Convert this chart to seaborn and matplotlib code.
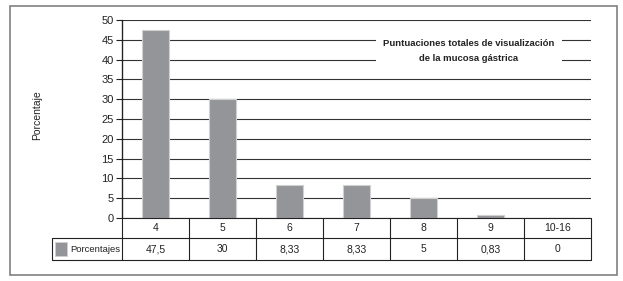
import matplotlib
matplotlib.use('Agg')
import matplotlib.pyplot as plt
import seaborn as sns
import pandas as pd
from matplotlib.patches import Rectangle
from matplotlib.lines import Line2D

categorias = ['4', '5', '6', '7', '8', '9', '10-16']
porcentajes = [47.5, 30, 8.33, 8.33, 5, 0.83, 0]
etiquetas = ['47,5', '30', '8,33', '8,33', '5', '0,83', '0']
serie = 'Porcentajes'

sns.set_style('white')
plt.rcParams['font.family'] = ['Liberation Sans Narrow', 'Liberation Sans', 'DejaVu Sans']

W, H = 623, 281
fig = plt.figure(figsize=(W / 100, H / 100), dpi=100)

def fx(px):
    return px / W

def fy(py):
    return 1 - py / H

L, R, T, B = 122, 591, 20, 218
ax = fig.add_axes([fx(L), fy(B), fx(R) - fx(L), fy(T) - fy(B)])

df = pd.DataFrame({'cat': categorias, 'val': porcentajes})
bar_color = '#939598'
sns.barplot(data=df, x='cat', y='val', order=categorias, color=bar_color,
            width=0.41, edgecolor='#d0d0d0', linewidth=0.8, saturation=1, ax=ax)

ax.set_ylim(0, 50)
ax.set_xlim(-0.5, len(categorias) - 0.5)
ax.set_yticks(range(0, 51, 5))
ax.yaxis.grid(True, color='#333333', linewidth=0.8)
ax.set_axisbelow(True)
for s in ['top', 'right', 'bottom']:
    ax.spines[s].set_visible(False)
ax.spines['left'].set_color('#222222')
ax.spines['left'].set_linewidth(0.9)
ax.tick_params(axis='y', left=True, length=4, width=0.8, color='#222222',
               labelsize=8, labelcolor='#222222', pad=2)
ax.set_xticks([])
ax.set_xlabel('')
ax.set_ylabel('')

fig.text(fx(37), fy(115), 'Porcentaje', rotation=90, ha='center', va='center',
         fontsize=7.5, color='#222222')

fig.text(fx(469), fy(51), 'Puntuaciones totales de visualización\nde la mucosa gástrica',
         ha='center', va='center', fontsize=6.8,
         fontweight='bold', color='#222222', linespacing=1.9,
         bbox=dict(facecolor='white', edgecolor='none', pad=5))

# tabla de datos
r1, r2, r3 = 218, 238, 260
lc = '#222222'
cw = (R - L) / len(categorias)
lines = [
    ((L, R), (r1, r1)),
    ((52, R), (r2, r2)),
    ((52, R), (r3, r3)),
    ((L, L), (T, r3)),
    ((52, 52), (r2, r3)),
]
for i in range(1, len(categorias) + 1):
    x = L + i * cw
    lines.append(((x, x), (r1, r3)))
for (xs, ys) in lines:
    fig.add_artist(Line2D([fx(xs[0]), fx(xs[1])], [fy(ys[0]), fy(ys[1])],
                          color=lc, linewidth=0.8))

for i, (c, e) in enumerate(zip(categorias, etiquetas)):
    xc = L + (i + 0.5) * cw
    fig.text(fx(xc), fy((r1 + r2) / 2), c, ha='center', va='center', fontsize=7.5, color='#222222')
    fig.text(fx(xc), fy((r2 + r3) / 2), e, ha='center', va='center', fontsize=7.5, color='#222222')

fig.add_artist(Rectangle((fx(55), fy(256)), fx(12), fy(242) - fy(256),
                         facecolor=bar_color, edgecolor='#d0d0d0', linewidth=0.6))
fig.text(fx(70), fy((r2 + r3) / 2), serie, ha='left', va='center', fontsize=6.8, color='#222222')

# marco exterior
fig.add_artist(Rectangle((fx(10), fy(275)), fx(617) - fx(10), fy(6) - fy(275),
                         facecolor='none', edgecolor='#808080', linewidth=1.2))

fig.savefig('out.png', dpi=100)
